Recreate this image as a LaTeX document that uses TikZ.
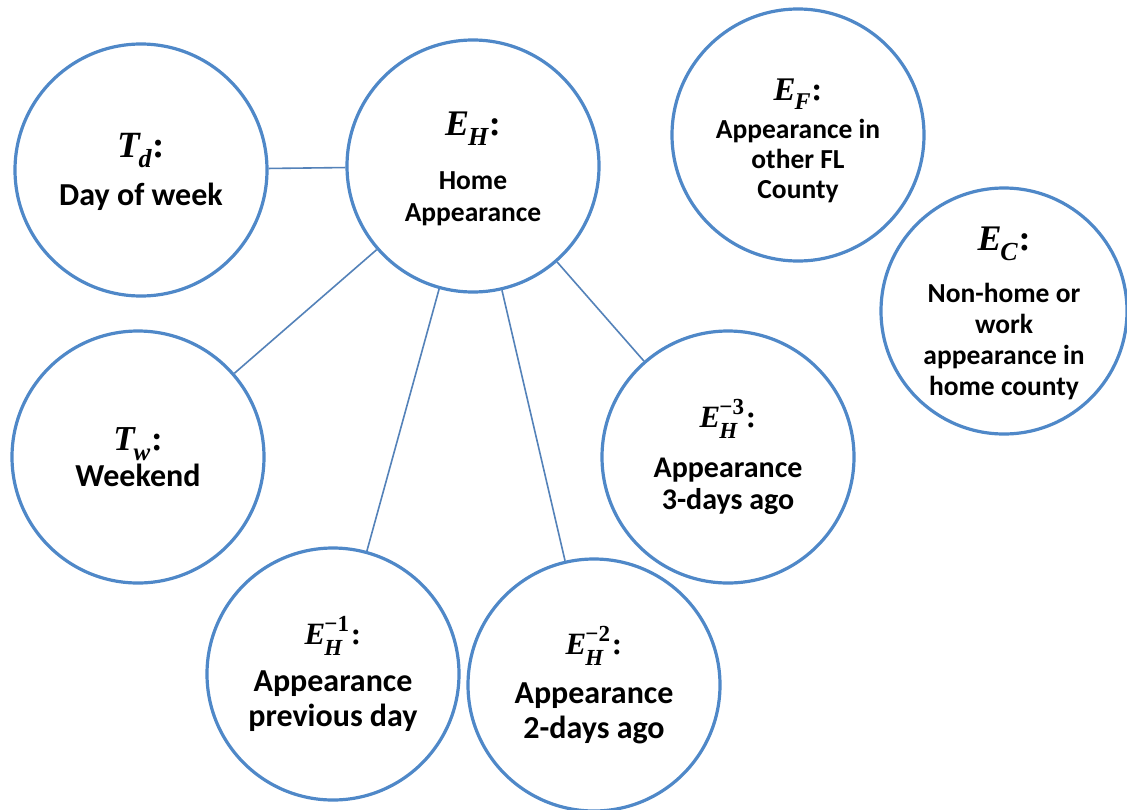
\documentclass[tikz,border=0pt]{standalone}
\usepackage{fontspec}
\setmainfont{Carlito}
\newfontfamily\mfont{Liberation Serif}
\definecolor{circblue}{RGB}{79,136,200}
\definecolor{linkblue}{RGB}{84,130,185}
% #1 size, #2 script size, #3 letter, #4 subscript
\newcommand{\mlA}[4]{{\fontsize{#1}{#1}\selectfont\mfont\bfseries\itshape #3\kern-0.03em\raisebox{-0.28em}{\fontsize{#2}{#2}\selectfont #4}\upshape\kern0.02em:}}
% #5 superscript
\newcommand{\mlB}[5]{{\fontsize{#1}{#1}\selectfont\mfont\bfseries\itshape #3\kern-0.03em\raisebox{-0.36em}{\makebox[0pt][l]{\fontsize{#2}{#2}\selectfont #4}}\raisebox{0.40em}{\fontsize{#2}{#2}\selectfont\upshape #5}\upshape\kern0.06em:}}
\newcommand{\topstrut}[1]{\rule{0pt}{#1}}
\tikzset{
  vnode/.style={circle, draw=circblue, line width=3.2pt, fill=white,
    minimum size=252pt, inner sep=0pt, align=center},
  link/.style={draw=linkblue, line width=1.6pt},
  txt/.style 2 args={font=\bfseries\fontsize{#1}{#2}\selectfont},
}
\begin{document}
\begin{tikzpicture}[x=1pt,y=-1pt]
\useasboundingbox[fill=white] (0,0) rectangle (1127,809);
\node[vnode, txt={32}{35}] (td) at (141,170) {\topstrut{28pt}\mlA{37}{26}{T}{d}\\[13pt]Day of week};
\node[vnode, txt={27.5}{32}] (eh) at (473,166) {\topstrut{29pt}\mlA{36}{26}{E}{H}\\[22pt]Home\\Appearance};
\node[vnode, txt={27.5}{30}] (ef) at (798,135) {\topstrut{33pt}\mlA{33}{24}{E}{F}\\[8pt]Appearance in\\other FL\\County};
\node[vnode, txt={27.5}{31}, minimum size=246pt] (ec) at (1004,311) {\topstrut{28pt}\mlA{36}{26}{E}{C}\\[21pt]Non-home or\\work\\appearance in\\home county};
\node[vnode, txt={32}{35}] (tw) at (138,457) {\mlA{35}{25}{T}{w}\\[1pt]Weekend};
\node[vnode, txt={30}{32}] (eh3) at (728,457) {\mlB{31}{23}{E}{H}{−3}\\[18pt]Appearance\\3-days ago};
\node[vnode, txt={32}{35}] (eh1) at (333,674) {\mlB{31}{23}{E}{H}{−1}\\[12pt]Appearance\\previous day};
\node[vnode, txt={32}{35}] (eh2) at (594,685) {\mlB{31}{23}{E}{H}{−2}\\[14pt]Appearance\\2-days ago};
\draw[link] (td) -- (eh);
\draw[link] (eh) -- (tw);
\draw[link] (eh) -- (eh1);
\draw[link] (eh) -- (eh2);
\draw[link] (eh) -- (eh3);
\end{tikzpicture}
\end{document}
